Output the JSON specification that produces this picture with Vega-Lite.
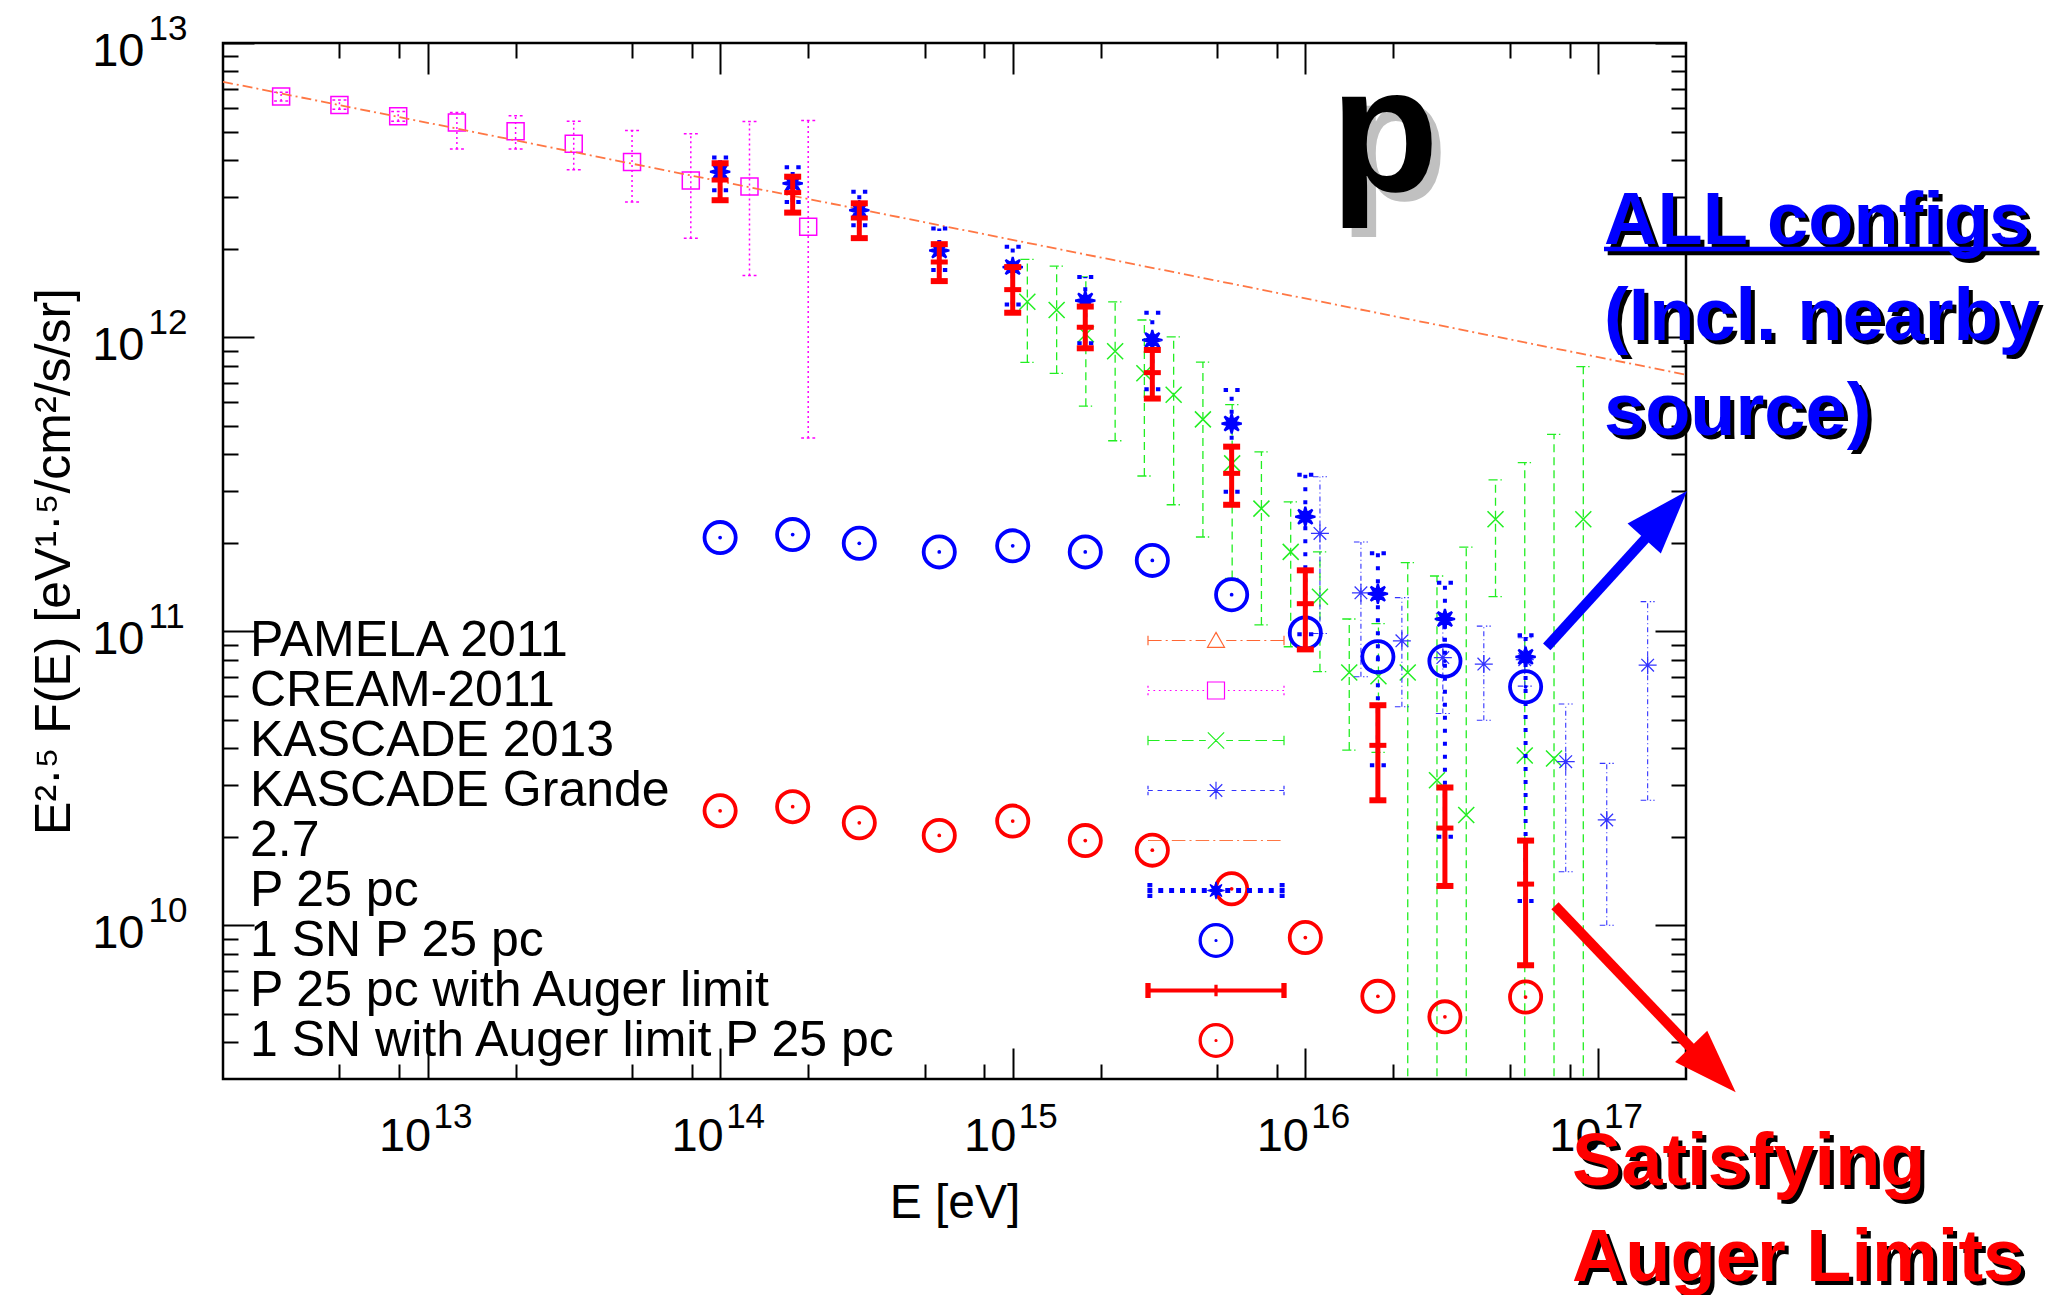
{
  "$schema": "https://vega.github.io/schema/vega-lite/v6.json",
  "width": 1463,
  "height": 1036,
  "autosize": {"type": "none"},
  "padding": {"left": 223, "top": 43, "right": 370, "bottom": 216},
  "background": "white",
  "config": {
    "view": {"stroke": "black", "strokeWidth": 2.5},
    "font": "Liberation Sans",
    "axis": {"grid": false, "domain": false, "labelFont": "Liberation Sans", "titleFont": "Liberation Sans", "labelColor": "black", "titleColor": "black", "tickColor": "black", "tickWidth": 2, "titleFontWeight": "normal"}
  },
  "datasets": {
    "cream": [
      {"E": 3.16e12, "F": 6.58e12, "lo": 6.35e12, "hi": 6.8e12, "series": "CREAM-2011"},
      {"E": 5.0e12, "F": 6.16e12, "lo": 5.95e12, "hi": 6.4e12, "series": "CREAM-2011"},
      {"E": 7.94e12, "F": 5.63e12, "lo": 5.42e12, "hi": 5.85e12, "series": "CREAM-2011"},
      {"E": 1.26e13, "F": 5.37e12, "lo": 4.36e12, "hi": 5.8e12, "series": "CREAM-2011"},
      {"E": 2.0e13, "F": 5.01e12, "lo": 4.36e12, "hi": 5.66e12, "series": "CREAM-2011"},
      {"E": 3.16e13, "F": 4.54e12, "lo": 3.71e12, "hi": 5.42e12, "series": "CREAM-2011"},
      {"E": 5.0e13, "F": 3.94e12, "lo": 2.88e12, "hi": 5.04e12, "series": "CREAM-2011"},
      {"E": 7.94e13, "F": 3.41e12, "lo": 2.17e12, "hi": 4.91e12, "series": "CREAM-2011"},
      {"E": 1.26e14, "F": 3.25e12, "lo": 1.62e12, "hi": 5.41e12, "series": "CREAM-2011"},
      {"E": 2.0e14, "F": 2.37e12, "lo": 4.54e11, "hi": 5.45e12, "series": "CREAM-2011"}
    ],
    "line27": [
      {"E": 2e12, "F": 7.38e12},
      {"E": 2e17, "F": 7.45e11}
    ],
    "kascade": [
      {"E": 1.122e15, "F": 1.318e12, "lo": 8.20e11, "hi": 1.837e12},
      {"E": 1.413e15, "F": 1.236e12, "lo": 7.53e11, "hi": 1.742e12},
      {"E": 1.778e15, "F": 1.023e12, "lo": 5.82e11, "hi": 1.603e12},
      {"E": 2.239e15, "F": 8.95e11, "lo": 4.44e11, "hi": 1.318e12},
      {"E": 2.818e15, "F": 7.53e11, "lo": 3.37e11, "hi": 1.143e12},
      {"E": 3.548e15, "F": 6.37e11, "lo": 2.69e11, "hi": 1.002e12},
      {"E": 4.467e15, "F": 5.25e11, "lo": 2.09e11, "hi": 8.22e11},
      {"E": 5.623e15, "F": 3.72e11, "lo": 1.51e11, "hi": 5.89e11},
      {"E": 7.079e15, "F": 2.61e11, "lo": 1.05e11, "hi": 4.07e11},
      {"E": 8.913e15, "F": 1.86e11, "lo": 8.85e10, "hi": 2.75e11},
      {"E": 1.122e16, "F": 1.31e11, "lo": 7.28e10, "hi": 1.86e11},
      {"E": 1.413e16, "F": 7.23e10, "lo": 3.94e10, "hi": 1.10e11},
      {"E": 1.778e16, "F": 7.03e10, "lo": 3.87e10, "hi": 1.06e11},
      {"E": 2.239e16, "F": 7.23e10, "lo": 1e9, "hi": 1.71e11},
      {"E": 2.818e16, "F": 3.11e10, "lo": 1e9, "hi": 1.54e11},
      {"E": 3.548e16, "F": 2.37e10, "lo": 1e9, "hi": 1.93e11},
      {"E": 4.467e16, "F": 2.40e11, "lo": 1.31e11, "hi": 3.27e11},
      {"E": 5.623e16, "F": 3.78e10, "lo": 1e9, "hi": 3.74e11},
      {"E": 7.079e16, "F": 3.69e10, "lo": 1e9, "hi": 4.67e11},
      {"E": 8.913e16, "F": 2.40e11, "lo": 1e9, "hi": 7.94e11}
    ],
    "kg": [
      {"E": 1.122e16, "F": 2.15e11, "lo": 9.82e10, "hi": 3.35e11},
      {"E": 1.549e16, "F": 1.35e11, "lo": 7.0e10, "hi": 2.01e11},
      {"E": 2.138e16, "F": 9.27e10, "lo": 5.53e10, "hi": 1.30e11},
      {"E": 2.951e16, "F": 8.13e10, "lo": 5.25e10, "hi": 1.15e11},
      {"E": 4.074e16, "F": 7.73e10, "lo": 4.98e10, "hi": 1.04e11},
      {"E": 5.623e16, "F": 8.0e10, "lo": 6.5e10, "hi": 9.5e10},
      {"E": 7.762e16, "F": 3.60e10, "lo": 1.52e10, "hi": 5.65e10},
      {"E": 1.072e17, "F": 2.28e10, "lo": 1.0e10, "hi": 3.55e10},
      {"E": 1.479e17, "F": 7.66e10, "lo": 2.66e10, "hi": 1.26e11}
    ],
    "p25": [
      {"E": 1e14, "F": 3.65e12, "lo": 3.16e12, "hi": 4.08e12},
      {"E": 1.77e14, "F": 3.33e12, "lo": 2.88e12, "hi": 3.78e12},
      {"E": 2.99e14, "F": 2.70e12, "lo": 2.40e12, "hi": 3.12e12},
      {"E": 5.61e14, "F": 1.97e12, "lo": 1.69e12, "hi": 2.34e12},
      {"E": 1e15, "F": 1.73e12, "lo": 1.29e12, "hi": 2.03e12},
      {"E": 1.77e15, "F": 1.33e12, "lo": 9.53e11, "hi": 1.60e12},
      {"E": 3.0e15, "F": 9.77e11, "lo": 6.64e11, "hi": 1.21e12},
      {"E": 5.6e15, "F": 5.08e11, "lo": 2.98e11, "hi": 6.61e11},
      {"E": 1e16, "F": 2.45e11, "lo": 9.77e10, "hi": 3.40e11},
      {"E": 1.77e16, "F": 1.34e11, "lo": 3.50e10, "hi": 1.84e11},
      {"E": 3.0e16, "F": 1.10e11, "lo": 2.0e10, "hi": 1.46e11},
      {"E": 5.66e16, "F": 8.18e10, "lo": 1.21e10, "hi": 9.68e10}
    ],
    "auger": [
      {"E": 1e14, "F": 3.42e12, "lo": 2.92e12, "hi": 3.90e12},
      {"E": 1.77e14, "F": 3.10e12, "lo": 2.65e12, "hi": 3.51e12},
      {"E": 2.99e14, "F": 2.54e12, "lo": 2.17e12, "hi": 2.85e12},
      {"E": 5.61e14, "F": 1.80e12, "lo": 1.55e12, "hi": 2.07e12},
      {"E": 1e15, "F": 1.45e12, "lo": 1.21e12, "hi": 1.73e12},
      {"E": 1.77e15, "F": 1.08e12, "lo": 9.16e11, "hi": 1.27e12},
      {"E": 3.0e15, "F": 7.57e11, "lo": 6.18e11, "hi": 9.04e11},
      {"E": 5.6e15, "F": 3.44e11, "lo": 2.69e11, "hi": 4.24e11},
      {"E": 1e16, "F": 1.24e11, "lo": 8.67e10, "hi": 1.61e11},
      {"E": 1.77e16, "F": 4.09e10, "lo": 2.66e10, "hi": 5.6e10},
      {"E": 3.0e16, "F": 2.14e10, "lo": 1.36e10, "hi": 2.94e10},
      {"E": 5.66e16, "F": 1.38e10, "lo": 7.31e9, "hi": 1.94e10}
    ],
    "sn": [
      {"E": 1e14, "F": 2.08e11},
      {"E": 1.77e14, "F": 2.13e11},
      {"E": 2.99e14, "F": 1.99e11},
      {"E": 5.61e14, "F": 1.86e11},
      {"E": 1e15, "F": 1.95e11},
      {"E": 1.77e15, "F": 1.86e11},
      {"E": 3.0e15, "F": 1.74e11},
      {"E": 5.6e15, "F": 1.33e11},
      {"E": 1e16, "F": 9.86e10},
      {"E": 1.77e16, "F": 8.18e10},
      {"E": 3.0e16, "F": 7.91e10},
      {"E": 5.66e16, "F": 6.47e10}
    ],
    "snauger": [
      {"E": 1e14, "F": 2.45e10},
      {"E": 1.77e14, "F": 2.53e10},
      {"E": 2.99e14, "F": 2.23e10},
      {"E": 5.61e14, "F": 2.02e10},
      {"E": 1e15, "F": 2.26e10},
      {"E": 1.77e15, "F": 1.94e10},
      {"E": 3.0e15, "F": 1.80e10},
      {"E": 5.6e15, "F": 1.33e10},
      {"E": 1e16, "F": 9.08e9},
      {"E": 1.77e16, "F": 5.73e9},
      {"E": 3.0e16, "F": 4.88e9},
      {"E": 5.66e16, "F": 5.70e9}
    ]
  },
  "resolve": {"axis": {"x": "independent", "y": "independent"}},
  "layer": [
    {
      "data": {"name": "cream"},
      "mark": {"type": "point", "shape": "square", "size": 289, "strokeWidth": 1.5, "filled": false, "opacity": 1, "clip": true},
      "encoding": {
        "x": {"field": "E", "type": "quantitative", "scale": {"type": "log", "domain": [2e12, 2e17], "nice": false},
          "axis": {"orient": "bottom", "values": [1e13, 1e14, 1e15, 1e16, 1e17], "labelExpr": "'10'", "ticks": false, "tickSize": 0, "domain": false, "grid": false, "labelFontSize": 47, "labelPadding": 34, "labelOffset": -23, "labelBaseline": "top", "labelAlign": "center", "labelFlush": false, "labelOverlap": false, "title": "E [eV]", "titleFontSize": 48, "titleX": 731.5, "titleY": 100, "titleBaseline": "top", "titleAlign": "center", "titleAngle": 0}},
        "y": {"field": "F", "type": "quantitative", "scale": {"type": "log", "domain": [3e9, 1e13], "nice": false},
          "axis": {"orient": "left", "values": [1e10, 1e11, 1e12, 1e13], "labelExpr": "'10'", "ticks": false, "tickSize": 0, "domain": false, "grid": false, "labelFontSize": 47, "labelPadding": 79, "labelOffset": 8, "labelAlign": "right", "labelBaseline": "middle", "labelFlush": false, "labelOverlap": false, "title": "E²·⁵ F(E)  [eV¹·⁵/cm²/s/sr]", "titleFontSize": 50, "titleAngle": -90, "titleX": -154, "titleY": 518, "titleBaseline": "alphabetic", "titleAlign": "center"}},
        "color": {"field": "series", "type": "nominal",
          "scale": {"domain": ["PAMELA 2011", "CREAM-2011", "KASCADE 2013", "KASCADE Grande", "2.7", "P 25 pc", "1 SN P 25 pc", "P 25 pc with Auger limit", "1 SN with Auger limit P 25 pc"],
                    "range": ["#ff6633", "#ff00ff", "#22ee22", "#3333ff", "#ff7744", "#0000ff", "#0000ff", "#ff0000", "#ff0000"]},
          "legend": {
            "title": null, "orient": "none", "legendX": 968, "legendY": 572.5, "direction": "vertical", "columns": 1, "padding": 0, "rowPadding": 0,
            "symbolSize": 1156, "symbolStrokeWidth": 1.2, "symbolOpacity": 1, "symbolOffset": 0,
            "labelFontSize": 50, "labelFont": "Liberation Sans", "labelColor": "black", "labelOffset": -991, "labelLimit": 2000,
            "encoding": {"symbols": {
              "shape": {"value": {"expr": "['M-4,-0.28V0.28M-4,0H-3.2M-2.96,0H-2.84M-2.6,0H-1.8M-1.56,0H-1.44M-1.2,0H-0.6M0,-0.48L0.5,0.4L-0.5,0.4ZM0.6,0H1.2M1.44,0H1.56M1.8,0H2.6M2.84,0H2.96M3.2,0H4M4,-0.28V0.28', 'M-4,0h0.1M-3.68,0h0.1M-3.36,0h0.1M-3.04,0h0.1M-2.72,0h0.1M-2.4,0h0.1M-2.08,0h0.1M-1.76,0h0.1M-1.44,0h0.1M-1.12,0h0.1M-0.8,0h0.1M-0.5,-0.5H0.5V0.5H-0.5ZM0.7,0h0.1M1.02,0h0.1M1.34,0h0.1M1.66,0h0.1M1.98,0h0.1M2.3,0h0.1M2.62,0h0.1M2.94,0h0.1M3.26,0h0.1M3.58,0h0.1M3.9,0h0.1M-4,-0.28v0.12M-4,0.16v0.12M4,-0.28v0.12M4,0.16v0.12', 'M-4,-0.28V0.28M-4,0H-3.32M-3,0H-2.32M-2,0H-1.32M-1,0H-0.6M-0.48,-0.48L0.48,0.48M0.48,-0.48L-0.48,0.48M0.6,0H1M1.32,0H2M2.32,0H3M3.32,0H4M4,-0.28V0.28', 'M-4,-0.28V-0.08M-4,0.08V0.28M-4,0H-3.72M-3.44,0H-3.16M-2.88,0H-2.6M-2.32,0H-2.04M-1.76,0H-1.48M-1.2,0H-0.92M-0.52,0H0.52M0,-0.52V0.52M-0.368,-0.368L0.368,0.368M0.368,-0.368L-0.368,0.368M0.92,0H1.2M1.48,0H1.76M2.04,0H2.32M2.6,0H2.88M3.16,0H3.44M3.72,0H4M4,-0.28V-0.08M4,0.08V0.28', 'M-4,0H-3.2M-2.96,0H-2.84M-2.6,0H-1.8M-1.56,0H-1.44M-1.2,0H-0.4M-0.16,0H-0.04M0.2,0H1M1.24,0H1.36M1.6,0H2.4M2.64,0H2.76M3,0H3.8', 'M-4,-0.108h0.22v0.22h-0.22ZM-3.36,-0.108h0.22v0.22h-0.22ZM-2.72,-0.108h0.22v0.22h-0.22ZM-2.08,-0.108h0.22v0.22h-0.22ZM-1.44,-0.108h0.22v0.22h-0.22ZM-0.8,-0.108h0.22v0.22h-0.22ZM0.58,-0.108h0.22v0.22h-0.22ZM1.22,-0.108h0.22v0.22h-0.22ZM1.86,-0.108h0.22v0.22h-0.22ZM2.5,-0.108h0.22v0.22h-0.22ZM3.14,-0.108h0.22v0.22h-0.22ZM3.78,-0.108h0.22v0.22h-0.22ZM-4,-0.4h0.22v0.18h-0.22ZM-4,0.22h0.22v0.18h-0.22ZM3.78,-0.4h0.22v0.18h-0.22ZM3.78,0.22h0.22v0.18h-0.22ZM0.5,0L0.19,0.08L0.35,0.35L0.08,0.19L0,0.5L-0.08,0.19L-0.35,0.35L-0.19,0.08L-0.5,0L-0.19,-0.08L-0.35,-0.35L-0.08,-0.19L0,-0.5L0.08,-0.19L0.35,-0.35L0.19,-0.08Z', 'M-0.992,0A0.992,0.992 0 1,1 0.992,0A0.992,0.992 0 1,1 -0.992,0ZM-0.872,0A0.872,0.872 0 1,0 0.872,0A0.872,0.872 0 1,0 -0.872,0ZM-0.06,0A0.06,0.06 0 1,1 0.06,0A0.06,0.06 0 1,1 -0.06,0Z', 'M-4,-0.088H4V0.088H-4ZM-4.12,-0.4H-3.88V0.4H-4.12ZM3.88,-0.4H4.12V0.4H3.88ZM-0.06,-0.3H0.06V0.3H-0.06Z', 'M-0.992,0A0.992,0.992 0 1,1 0.992,0A0.992,0.992 0 1,1 -0.992,0ZM-0.872,0A0.872,0.872 0 1,0 0.872,0A0.872,0.872 0 1,0 -0.872,0ZM-0.06,0A0.06,0.06 0 1,1 0.06,0A0.06,0.06 0 1,1 -0.06,0Z'][indexof(['PAMELA 2011','CREAM-2011','KASCADE 2013','KASCADE Grande','2.7','P 25 pc','1 SN P 25 pc','P 25 pc with Auger limit','1 SN with Auger limit P 25 pc'], datum.value)]"}},
              "fill": {"value": {"expr": "['transparent','transparent','transparent','transparent','transparent','#0000ff','#0000ff','#ff0000','#ff0000'][indexof(['PAMELA 2011','CREAM-2011','KASCADE 2013','KASCADE Grande','2.7','P 25 pc','1 SN P 25 pc','P 25 pc with Auger limit','1 SN with Auger limit P 25 pc'], datum.value)]"}},
              "stroke": {"value": {"expr": "scale('color', datum.value)"}},
              "strokeWidth": {"value": 1.2},
              "size": {"value": 1156},
              "opacity": {"value": 1}
            }}
          }
        }
      }
    },
    {
      "data": {"name": "cream"},
      "mark": {"type": "rule", "color": "#ff00ff", "strokeWidth": 1.5, "strokeDash": [2, 3], "clip": true},
      "encoding": {
        "x": {"field": "E", "type": "quantitative", "scale": {"type": "log", "domain": [2e12, 2e17], "nice": false},
          "axis": {"orient": "bottom", "values": [1e13, 1e14, 1e15, 1e16, 1e17], "labelExpr": "round(log(datum.value)/LN10) + ''", "ticks": false, "tickSize": 0, "domain": false, "grid": false, "labelFontSize": 35, "labelPadding": 20, "labelOffset": 25, "labelBaseline": "top", "labelAlign": "center", "labelFlush": false, "labelOverlap": false, "title": null}},
        "y": {"field": "lo", "type": "quantitative", "scale": {"type": "log", "domain": [3e9, 1e13], "nice": false},
          "axis": {"orient": "left", "values": [1e10, 1e11, 1e12, 1e13], "labelExpr": "round(log(datum.value)/LN10) + ''", "ticks": false, "tickSize": 0, "domain": false, "grid": false, "labelFontSize": 35, "labelPadding": 75, "labelOffset": -15, "labelAlign": "left", "labelBaseline": "middle", "labelFlush": false, "labelOverlap": false, "title": null}},
        "y2": {"field": "hi"}
      }
    },
    {
      "data": {"name": "cream"},
      "transform": [{"fold": ["lo", "hi"], "as": ["capk", "capv"]}],
      "mark": {"type": "point", "shape": "M-1,0H-0.6M-0.2,0H0.2M0.6,0H1", "size": 196, "strokeWidth": 1.5, "color": "#ff00ff", "filled": false, "opacity": 1, "clip": true},
      "encoding": {
        "x": {"field": "E", "type": "quantitative", "scale": {"type": "log", "domain": [2e12, 2e17], "nice": false},
          "axis": {"orient": "bottom", "values": [1e13, 1e14, 1e15, 1e16, 1e17], "labels": false, "ticks": true, "tickSize": -31, "tickWidth": 2, "domain": false, "grid": false, "title": null}},
        "y": {"field": "capv", "type": "quantitative", "scale": {"type": "log", "domain": [3e9, 1e13], "nice": false},
          "axis": {"orient": "left", "values": [1e10, 1e11, 1e12, 1e13], "labels": false, "ticks": true, "tickSize": -31, "tickWidth": 2, "domain": false, "grid": false, "title": null}}
      }
    },
    {
      "data": {"name": "kascade"},
      "mark": {"type": "rule", "color": "#22ee22", "strokeWidth": 1.3, "strokeDash": [8, 5], "clip": true},
      "encoding": {
        "x": {"field": "E", "type": "quantitative", "scale": {"type": "log", "domain": [2e12, 2e17], "nice": false},
          "axis": {"orient": "bottom", "values": [5e12, 8e12, 2e13, 5e13, 8e13, 2e14, 5e14, 8e14, 2e15, 5e15, 8e15, 2e16, 5e16, 8e16], "labels": false, "ticks": true, "tickSize": -15, "tickWidth": 2, "domain": false, "grid": false, "title": null}},
        "y": {"field": "lo", "type": "quantitative", "scale": {"type": "log", "domain": [3e9, 1e13], "nice": false},
          "axis": {"orient": "left", "values": [4e9, 5e9, 6e9, 7e9, 8e9, 9e9, 2e10, 3e10, 4e10, 5e10, 6e10, 7e10, 8e10, 9e10, 2e11, 3e11, 4e11, 5e11, 6e11, 7e11, 8e11, 9e11, 2e12, 3e12, 4e12, 5e12, 6e12, 7e12, 8e12, 9e12], "labels": false, "ticks": true, "tickSize": -15, "tickWidth": 2, "domain": false, "grid": false, "title": null}},
        "y2": {"field": "hi"}
      }
    },
    {
      "data": {"name": "kascade"},
      "transform": [{"fold": ["lo", "hi"], "as": ["capk", "capv"]}],
      "mark": {"type": "point", "shape": "M-1,0H0.3M0.7,0H0.9", "size": 196, "strokeWidth": 1.3, "color": "#22ee22", "filled": false, "opacity": 1, "clip": true},
      "encoding": {
        "x": {"field": "E", "type": "quantitative", "scale": {"type": "log", "domain": [2e12, 2e17], "nice": false},
          "axis": {"orient": "top", "values": [1e13, 1e14, 1e15, 1e16, 1e17], "labels": false, "ticks": true, "tickSize": -31, "tickWidth": 2, "domain": false, "grid": false, "title": null}},
        "y": {"field": "capv", "type": "quantitative", "scale": {"type": "log", "domain": [3e9, 1e13], "nice": false},
          "axis": {"orient": "right", "values": [1e10, 1e11, 1e12, 1e13], "labels": false, "ticks": true, "tickSize": -31, "tickWidth": 2, "domain": false, "grid": false, "title": null}}
      }
    },
    {
      "data": {"name": "kascade"},
      "mark": {"type": "point", "shape": "M-1,-1L1,1M1,-1L-1,1", "size": 256, "strokeWidth": 1.5, "color": "#22ee22", "filled": false, "opacity": 1, "clip": true},
      "encoding": {
        "x": {"field": "E", "type": "quantitative", "scale": {"type": "log", "domain": [2e12, 2e17], "nice": false},
          "axis": {"orient": "top", "values": [5e12, 8e12, 2e13, 5e13, 8e13, 2e14, 5e14, 8e14, 2e15, 5e15, 8e15, 2e16, 5e16, 8e16], "labels": false, "ticks": true, "tickSize": -15, "tickWidth": 2, "domain": false, "grid": false, "title": null}},
        "y": {"field": "F", "type": "quantitative", "scale": {"type": "log", "domain": [3e9, 1e13], "nice": false},
          "axis": {"orient": "right", "values": [4e9, 5e9, 6e9, 7e9, 8e9, 9e9, 2e10, 3e10, 4e10, 5e10, 6e10, 7e10, 8e10, 9e10, 2e11, 3e11, 4e11, 5e11, 6e11, 7e11, 8e11, 9e11, 2e12, 3e12, 4e12, 5e12, 6e12, 7e12, 8e12, 9e12], "labels": false, "ticks": true, "tickSize": -15, "tickWidth": 2, "domain": false, "grid": false, "title": null}}
      }
    },
    {
      "data": {"name": "line27"},
      "mark": {"type": "line", "color": "#ff7744", "strokeWidth": 1.8, "strokeDash": [10, 4, 2, 4], "clip": true},
      "encoding": {
        "x": {"field": "E", "type": "quantitative", "scale": {"type": "log", "domain": [2e12, 2e17], "nice": false}, "axis": null},
        "y": {"field": "F", "type": "quantitative", "scale": {"type": "log", "domain": [3e9, 1e13], "nice": false}, "axis": null}
      }
    },
    {
      "data": {"name": "kg"},
      "mark": {"type": "rule", "color": "#3333ff", "strokeWidth": 1.1, "strokeDash": [5, 3, 1, 3], "clip": true},
      "encoding": {
        "x": {"field": "E", "type": "quantitative", "scale": {"type": "log", "domain": [2e12, 2e17], "nice": false}, "axis": null},
        "y": {"field": "lo", "type": "quantitative", "scale": {"type": "log", "domain": [3e9, 1e13], "nice": false}, "axis": null},
        "y2": {"field": "hi"}
      }
    },
    {
      "data": {"name": "kg"},
      "transform": [{"fold": ["lo", "hi"], "as": ["capk", "capv"]}],
      "mark": {"type": "point", "shape": "M-1,0H-0.2M0.3,0H0.5M0.8,0H1", "size": 196, "strokeWidth": 1.1, "color": "#3333ff", "filled": false, "opacity": 1, "clip": true},
      "encoding": {
        "x": {"field": "E", "type": "quantitative", "scale": {"type": "log", "domain": [2e12, 2e17], "nice": false}, "axis": null},
        "y": {"field": "capv", "type": "quantitative", "scale": {"type": "log", "domain": [3e9, 1e13], "nice": false}, "axis": null}
      }
    },
    {
      "data": {"name": "kg"},
      "mark": {"type": "point", "shape": "M-1,0H1M0,-1V1M-0.7,-0.7L0.7,0.7M0.7,-0.7L-0.7,0.7", "size": 324, "strokeWidth": 1.3, "color": "#3333ff", "filled": false, "opacity": 1, "clip": true},
      "encoding": {
        "x": {"field": "E", "type": "quantitative", "scale": {"type": "log", "domain": [2e12, 2e17], "nice": false}, "axis": null},
        "y": {"field": "F", "type": "quantitative", "scale": {"type": "log", "domain": [3e9, 1e13], "nice": false}, "axis": null}
      }
    },
    {
      "data": {"name": "p25"},
      "mark": {"type": "rule", "color": "#0000ff", "strokeWidth": 4, "strokeDash": [4, 9], "clip": true},
      "encoding": {
        "x": {"field": "E", "type": "quantitative", "scale": {"type": "log", "domain": [2e12, 2e17], "nice": false}, "axis": null},
        "y": {"field": "lo", "type": "quantitative", "scale": {"type": "log", "domain": [3e9, 1e13], "nice": false}, "axis": null},
        "y2": {"field": "hi"}
      }
    },
    {
      "data": {"name": "p25"},
      "transform": [{"fold": ["lo", "hi"], "as": ["capk", "capv"]}],
      "mark": {"type": "point", "shape": "M-1,0H-0.45M0.45,0H1", "size": 256, "strokeWidth": 4, "color": "#0000ff", "filled": false, "opacity": 1, "clip": true},
      "encoding": {
        "x": {"field": "E", "type": "quantitative", "scale": {"type": "log", "domain": [2e12, 2e17], "nice": false}, "axis": null},
        "y": {"field": "capv", "type": "quantitative", "scale": {"type": "log", "domain": [3e9, 1e13], "nice": false}, "axis": null}
      }
    },
    {
      "data": {"name": "p25"},
      "mark": {"type": "point", "shape": "M1,0L0.38,0.16L0.71,0.71L0.16,0.38L0,1L-0.16,0.38L-0.71,0.71L-0.38,0.16L-1,0L-0.38,-0.16L-0.71,-0.71L-0.16,-0.38L0,-1L0.16,-0.38L0.71,-0.71L0.38,-0.16Z", "size": 400, "strokeWidth": 2.2, "color": "#0000ff", "filled": true, "stroke": "#0000ff", "opacity": 1, "clip": true},
      "encoding": {
        "x": {"field": "E", "type": "quantitative", "scale": {"type": "log", "domain": [2e12, 2e17], "nice": false}, "axis": null},
        "y": {"field": "F", "type": "quantitative", "scale": {"type": "log", "domain": [3e9, 1e13], "nice": false}, "axis": null}
      }
    },
    {
      "data": {"name": "sn"},
      "mark": {"type": "point", "shape": "circle", "size": 973, "strokeWidth": 3.8, "color": "#0000ff", "filled": false, "opacity": 1, "clip": true},
      "encoding": {
        "x": {"field": "E", "type": "quantitative", "scale": {"type": "log", "domain": [2e12, 2e17], "nice": false}, "axis": null},
        "y": {"field": "F", "type": "quantitative", "scale": {"type": "log", "domain": [3e9, 1e13], "nice": false}, "axis": null}
      }
    },
    {
      "data": {"name": "sn"},
      "mark": {"type": "point", "shape": "circle", "size": 14, "color": "#0000ff", "filled": true, "opacity": 1, "clip": true},
      "encoding": {
        "x": {"field": "E", "type": "quantitative", "scale": {"type": "log", "domain": [2e12, 2e17], "nice": false}, "axis": null},
        "y": {"field": "F", "type": "quantitative", "scale": {"type": "log", "domain": [3e9, 1e13], "nice": false}, "axis": null}
      }
    },
    {
      "data": {"name": "auger"},
      "mark": {"type": "rule", "color": "#ff0000", "strokeWidth": 5, "clip": true},
      "encoding": {
        "x": {"field": "E", "type": "quantitative", "scale": {"type": "log", "domain": [2e12, 2e17], "nice": false}, "axis": null},
        "y": {"field": "lo", "type": "quantitative", "scale": {"type": "log", "domain": [3e9, 1e13], "nice": false}, "axis": null},
        "y2": {"field": "hi"}
      }
    },
    {
      "data": {"name": "auger"},
      "transform": [{"fold": ["lo", "hi"], "as": ["capk", "capv"]}],
      "mark": {"type": "point", "shape": "M-1,0H1", "size": 289, "strokeWidth": 6, "color": "#ff0000", "filled": false, "opacity": 1, "clip": true},
      "encoding": {
        "x": {"field": "E", "type": "quantitative", "scale": {"type": "log", "domain": [2e12, 2e17], "nice": false}, "axis": null},
        "y": {"field": "capv", "type": "quantitative", "scale": {"type": "log", "domain": [3e9, 1e13], "nice": false}, "axis": null}
      }
    },
    {
      "data": {"name": "auger"},
      "mark": {"type": "point", "shape": "M-1,0H1", "size": 289, "strokeWidth": 5, "color": "#ff0000", "filled": false, "opacity": 1, "clip": true},
      "encoding": {
        "x": {"field": "E", "type": "quantitative", "scale": {"type": "log", "domain": [2e12, 2e17], "nice": false}, "axis": null},
        "y": {"field": "F", "type": "quantitative", "scale": {"type": "log", "domain": [3e9, 1e13], "nice": false}, "axis": null}
      }
    },
    {
      "data": {"name": "snauger"},
      "mark": {"type": "point", "shape": "circle", "size": 973, "strokeWidth": 3.8, "color": "#ff0000", "filled": false, "opacity": 1, "clip": true},
      "encoding": {
        "x": {"field": "E", "type": "quantitative", "scale": {"type": "log", "domain": [2e12, 2e17], "nice": false}, "axis": null},
        "y": {"field": "F", "type": "quantitative", "scale": {"type": "log", "domain": [3e9, 1e13], "nice": false}, "axis": null}
      }
    },
    {
      "data": {"name": "snauger"},
      "mark": {"type": "point", "shape": "circle", "size": 14, "color": "#ff0000", "filled": true, "opacity": 1, "clip": true},
      "encoding": {
        "x": {"field": "E", "type": "quantitative", "scale": {"type": "log", "domain": [2e12, 2e17], "nice": false}, "axis": null},
        "y": {"field": "F", "type": "quantitative", "scale": {"type": "log", "domain": [3e9, 1e13], "nice": false}, "axis": null}
      }
    },
    {
      "data": {"values": [{}]},
      "mark": {"type": "text", "text": "p", "font": "Liberation Sans", "fontWeight": "bold", "fontSize": 178, "align": "center", "baseline": "alphabetic", "color": "#c0c0c0", "dx": 9, "dy": 9},
      "encoding": {
        "x": {"datum": 1.866e16, "type": "quantitative", "scale": {"type": "log", "domain": [2e12, 2e17], "nice": false}, "axis": null},
        "y": {"datum": 3.15e12, "type": "quantitative", "scale": {"type": "log", "domain": [3e9, 1e13], "nice": false}, "axis": null}
      }
    },
    {
      "data": {"values": [{}]},
      "mark": {"type": "text", "text": "p", "font": "Liberation Sans", "fontWeight": "bold", "fontSize": 178, "align": "center", "baseline": "alphabetic", "color": "black"},
      "encoding": {
        "x": {"datum": 1.866e16, "type": "quantitative", "scale": {"type": "log", "domain": [2e12, 2e17], "nice": false}, "axis": null},
        "y": {"datum": 3.15e12, "type": "quantitative", "scale": {"type": "log", "domain": [3e9, 1e13], "nice": false}, "axis": null}
      }
    },
    {
      "data": {"values": [{}]},
      "mark": {"type": "text", "text": ["ALL configs", "(Incl. nearby", "source)"], "lineHeight": 95.5, "font": "Liberation Sans", "fontWeight": "bold", "fontSize": 74, "align": "left", "baseline": "alphabetic", "color": "black", "dx": 4, "dy": 4},
      "encoding": {
        "x": {"datum": 1.049e17, "type": "quantitative", "scale": {"type": "log", "domain": [2e12, 2e17], "nice": false}, "axis": null},
        "y": {"datum": 2.072e12, "type": "quantitative", "scale": {"type": "log", "domain": [3e9, 1e13], "nice": false}, "axis": null}
      }
    },
    {
      "data": {"values": [{}]},
      "mark": {"type": "rule", "color": "black", "strokeWidth": 4.5},
      "encoding": {
        "x": {"datum": 1.080e17, "type": "quantitative", "scale": {"type": "log", "domain": [2e12, 2e17], "nice": false}, "axis": null},
        "x2": {"datum": 3.229e18},
        "y": {"datum": 1.931e12, "type": "quantitative", "scale": {"type": "log", "domain": [3e9, 1e13], "nice": false}, "axis": null}
      }
    },
    {
      "data": {"values": [{}]},
      "mark": {"type": "text", "text": ["ALL configs", "(Incl. nearby", "source)"], "lineHeight": 95.5, "font": "Liberation Sans", "fontWeight": "bold", "fontSize": 74, "align": "left", "baseline": "alphabetic", "color": "#0000ff"},
      "encoding": {
        "x": {"datum": 1.049e17, "type": "quantitative", "scale": {"type": "log", "domain": [2e12, 2e17], "nice": false}, "axis": null},
        "y": {"datum": 2.072e12, "type": "quantitative", "scale": {"type": "log", "domain": [3e9, 1e13], "nice": false}, "axis": null}
      }
    },
    {
      "data": {"values": [{}]},
      "mark": {"type": "rule", "color": "#0000ff", "strokeWidth": 4.5},
      "encoding": {
        "x": {"datum": 1.049e17, "type": "quantitative", "scale": {"type": "log", "domain": [2e12, 2e17], "nice": false}, "axis": null},
        "x2": {"datum": 3.15e18},
        "y": {"datum": 1.992e12, "type": "quantitative", "scale": {"type": "log", "domain": [3e9, 1e13], "nice": false}, "axis": null}
      }
    },
    {
      "data": {"values": [{}]},
      "mark": {"type": "text", "text": ["Satisfying", "Auger Limits"], "lineHeight": 95.3, "font": "Liberation Sans", "fontWeight": "bold", "fontSize": 74, "align": "left", "baseline": "alphabetic", "color": "black", "dx": 4, "dy": 4},
      "encoding": {
        "x": {"datum": 8.15e16, "type": "quantitative", "scale": {"type": "log", "domain": [2e12, 2e17], "nice": false}, "axis": null},
        "y": {"datum": 1.304e9, "type": "quantitative", "scale": {"type": "log", "domain": [3e9, 1e13], "nice": false}, "axis": null}
      }
    },
    {
      "data": {"values": [{}]},
      "mark": {"type": "text", "text": ["Satisfying", "Auger Limits"], "lineHeight": 95.3, "font": "Liberation Sans", "fontWeight": "bold", "fontSize": 74, "align": "left", "baseline": "alphabetic", "color": "#ff0000"},
      "encoding": {
        "x": {"datum": 8.15e16, "type": "quantitative", "scale": {"type": "log", "domain": [2e12, 2e17], "nice": false}, "axis": null},
        "y": {"datum": 1.304e9, "type": "quantitative", "scale": {"type": "log", "domain": [3e9, 1e13], "nice": false}, "axis": null}
      }
    },
    {
      "data": {"values": [{}]},
      "mark": {"type": "rule", "color": "#0000ff", "strokeWidth": 10, "strokeCap": "butt"},
      "encoding": {
        "x": {"datum": 6.685e16, "type": "quantitative", "scale": {"type": "log", "domain": [2e12, 2e17], "nice": false}, "axis": null},
        "x2": {"datum": 1.511e17},
        "y": {"datum": 8.845e10, "type": "quantitative", "scale": {"type": "log", "domain": [3e9, 1e13], "nice": false}, "axis": null},
        "y2": {"datum": 2.154e11}
      }
    },
    {
      "data": {"values": [{}]},
      "mark": {"type": "point", "shape": "M0,0L0.7,2L-0.7,2Z", "size": 4096, "filled": true, "color": "#0000ff", "strokeWidth": 0, "opacity": 1, "angle": 42},
      "encoding": {
        "x": {"datum": 2.016e17, "type": "quantitative", "scale": {"type": "log", "domain": [2e12, 2e17], "nice": false}, "axis": null},
        "y": {"datum": 2.996e11, "type": "quantitative", "scale": {"type": "log", "domain": [3e9, 1e13], "nice": false}, "axis": null}
      }
    },
    {
      "data": {"values": [{}]},
      "mark": {"type": "rule", "color": "#ff0000", "strokeWidth": 10, "strokeCap": "butt"},
      "encoding": {
        "x": {"datum": 7.134e16, "type": "quantitative", "scale": {"type": "log", "domain": [2e12, 2e17], "nice": false}, "axis": null},
        "x2": {"datum": 2.135e17},
        "y": {"datum": 1.165e10, "type": "quantitative", "scale": {"type": "log", "domain": [3e9, 1e13], "nice": false}, "axis": null},
        "y2": {"datum": 3.72e9}
      }
    },
    {
      "data": {"values": [{}]},
      "mark": {"type": "point", "shape": "M0,0L0.7,2L-0.7,2Z", "size": 4096, "filled": true, "color": "#ff0000", "strokeWidth": 0, "opacity": 1, "angle": 135.9},
      "encoding": {
        "x": {"datum": 2.957e17, "type": "quantitative", "scale": {"type": "log", "domain": [2e12, 2e17], "nice": false}, "axis": null},
        "y": {"datum": 2.704e9, "type": "quantitative", "scale": {"type": "log", "domain": [3e9, 1e13], "nice": false}, "axis": null}
      }
    }
  ]
}
